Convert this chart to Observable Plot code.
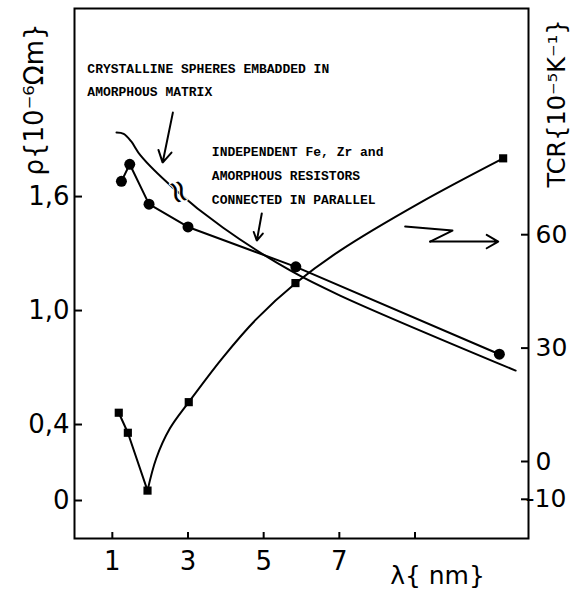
<!DOCTYPE html>
<html><head><meta charset="utf-8">
<script src="https://cdn.jsdelivr.net/npm/d3@7"></script>
<script src="https://cdn.jsdelivr.net/npm/@observablehq/plot@0.6"></script>
<style>
html,body{margin:0;padding:0;background:#fff}
</style>
</head><body><div id="chart"></div>
<script>
// --- data ---
const lambdaCircles = [1.24, 1.46, 1.97, 3.00, 5.85, 11.23];
const rhoCircles    = [1.68, 1.77, 1.56, 1.44, 1.23, 0.77];

const lambdaSquares = [1.17, 1.41, 1.93, 3.02, 5.84, 11.33];
const tcrSquares    = [12.9, 7.6, -7.7, 15.7, 47.2, 80.2];

// smooth TCR curve drawn through the squares
const lambdaTcrCurve = [1.93, 2.16, 2.52, 3.02, 3.92, 4.82, 5.85, 7.02, 9.14, 11.33];
const tcrCurve       = [-7.7, 0.8, 8.7, 15.7, 27.5, 37.8, 47.2, 55.8, 68.5, 80.2];

// "crystalline spheres embedded in amorphous matrix" model curve
const lambdaModel = [1.11, 1.30, 1.50, 1.75, 2.60, 3.92, 5.70, 7.02, 11.66];
const rhoModel    = [1.937, 1.930, 1.890, 1.815, 1.647, 1.437, 1.211, 1.079, 0.684];

// axes
const xDomain = [0, 12];
const rhoDomain = [-0.2, 2.59];
const tcrDomain = [-20.37, 119.84];
const xTicks = [1, 3, 5, 7, 9];
const xTickLabels = [1, 3, 5, 7];
const rhoTicks = [0, 0.4, 1.0, 1.6];
const tcrTicks = [60, 30, 0, -10];

// annotations
const noteLines = [
  {x: 0.34, y: 2.274, t: "CRYSTALLINE SPHERES EMBADDED IN"},
  {x: 0.34, y: 2.153, t: "AMORPHOUS MATRIX"},
  {x: 3.63, y: 1.837, t: "INDEPENDENT Fe, Zr and"},
  {x: 3.63, y: 1.711, t: "AMORPHOUS RESISTORS"},
  {x: 3.63, y: 1.584, t: "CONNECTED IN PARALLEL"}
];
const arrows = [
  {x1: 2.60, y1: 2.042, x2: 2.33, y2: 1.779},
  {x1: 4.95, y1: 1.511, x2: 4.82, y2: 1.368},
  {x1: 9.40, y1: 1.363, x2: 11.20, y2: 1.363}
];
const zigzag = [{x: 8.74, y: 1.442}, {x: 9.99, y: 1.421}, {x: 9.40, y: 1.363}];
const breakMark = [{x: 2.75, y: 1.625}];

// --- helpers ---
const toRho = t => rhoDomain[0] + (t - tcrDomain[0]) / (tcrDomain[1] - tcrDomain[0]) * (rhoDomain[1] - rhoDomain[0]);
const circles = lambdaCircles.map((x, i) => ({x, y: rhoCircles[i]}));
const squares = lambdaSquares.map((x, i) => ({x, y: toRho(tcrSquares[i])}));
const tcrLine = lambdaTcrCurve.map((x, i) => ({x, y: toRho(tcrCurve[i])}));
const model = lambdaModel.map((x, i) => ({x, y: rhoModel[i]}));
const fmtRho = d => d === 0 ? "0" : d.toFixed(1).replace(".", ",");

const sans = "'DejaVu Sans', sans-serif";
const mono = "'Liberation Mono', 'DejaVu Sans Mono', monospace";
const pxX = 454 / 12, pxY = 530 / (rhoDomain[1] - rhoDomain[0]);

const chart = Plot.plot({
  width: 576, height: 591,
  marginLeft: 74, marginRight: 48, marginTop: 8, marginBottom: 53,
  x: {domain: xDomain, axis: null},
  y: {domain: rhoDomain, axis: null},
  style: {fontFamily: sans, background: "white", color: "black", overflow: "visible"},
  marks: [
    Plot.frame({stroke: "black", strokeWidth: 2}),
    // inward ticks
    Plot.ruleY(rhoTicks, {y: d => d, x1: () => 0, x2: () => 8 / pxX, stroke: "black", strokeWidth: 2}),
    Plot.ruleY(tcrTicks, {y: d => toRho(d), x1: () => 12 - 7 / pxX, x2: () => 12, stroke: "black", strokeWidth: 2}),
    Plot.ruleX(xTicks, {x: d => d, y1: () => rhoDomain[0], y2: () => rhoDomain[0] + 6 / pxY, stroke: "black", strokeWidth: 2}),
    // tick labels
    Plot.text(rhoTicks, {x: () => 0, y: d => d, text: fmtRho, textAnchor: "end", dx: -5, fontSize: 26, fontFamily: sans, letterSpacing: -3}),
    Plot.text(xTickLabels, {x: d => d, y: () => rhoDomain[0], text: d => String(d), dy: 23, fontSize: 26, fontFamily: sans}),
    Plot.text(tcrTicks.filter(d => d >= 0), {x: () => 12, y: d => toRho(d), text: d => String(d), textAnchor: "start", dx: 7, fontSize: 25, fontFamily: sans, letterSpacing: 2}),
    Plot.text(tcrTicks.filter(d => d < 0), {x: () => 12, y: d => toRho(d), text: d => "-" + Math.abs(d), textAnchor: "start", dx: -3, fontSize: 25, fontFamily: sans, letterSpacing: 2}),
    // axis titles
    Plot.text(["ρ{10⁻⁶Ωm}"], {frameAnchor: "top-left", textAnchor: "middle", lineAnchor: "middle", dx: -40, dy: 91, rotate: -90, fontSize: 26, fontFamily: sans}),
    Plot.text(["TCR{10⁻⁵K⁻¹}"], {frameAnchor: "top-right", textAnchor: "middle", lineAnchor: "middle", dx: 29, dy: 95, rotate: -90, fontSize: 24, fontFamily: sans, letterSpacing: 1}),
    Plot.text(["λ{ nm}"], {frameAnchor: "bottom-right", textAnchor: "middle", lineAnchor: "middle", dx: -91, dy: 37, fontSize: 25, fontFamily: sans, letterSpacing: 1}),
    // curves
    Plot.line(model, {x: "x", y: "y", curve: "catmull-rom", stroke: "black", strokeWidth: 2}),
    Plot.line(circles, {x: "x", y: "y", stroke: "black", strokeWidth: 2}),
    Plot.line(squares.slice(0, 3), {x: "x", y: "y", stroke: "black", strokeWidth: 2}),
    Plot.line(tcrLine, {x: "x", y: "y", curve: "catmull-rom", stroke: "black", strokeWidth: 2}),
    Plot.dot(circles, {x: "x", y: "y", r: 5.5, fill: "black"}),
    Plot.dot(squares, {x: "x", y: "y", r: 4.6, symbol: "square", fill: "black"}),
    // annotations
    Plot.text(noteLines, {x: "x", y: "y", text: "t", textAnchor: "start", fontSize: 13, fontWeight: "bold", fontFamily: mono}),
    Plot.arrow(arrows, {x1: "x1", y1: "y1", x2: "x2", y2: "y2", stroke: "black", strokeWidth: 2, headLength: 10, bend: 0}),
    Plot.line(zigzag, {x: "x", y: "y", stroke: "black", strokeWidth: 2}),
    Plot.text(breakMark, {x: "x", y: "y", text: () => "≈", fontSize: 32, rotate: 72, fontFamily: sans, fill: "black", stroke: "white", strokeWidth: 2, paintOrder: "stroke"})
  ]
});
document.getElementById("chart").appendChild(chart);
</script>
</body></html>
